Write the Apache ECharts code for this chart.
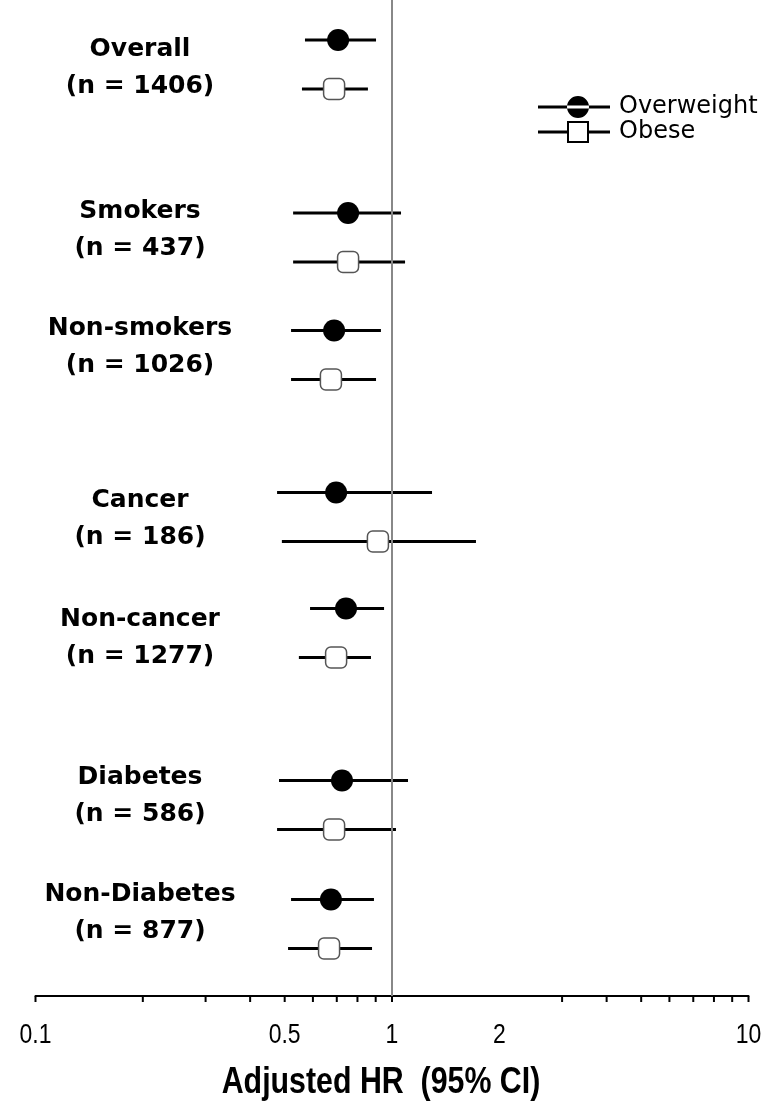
<!DOCTYPE html>
<html>
<head>
<meta charset="utf-8">
<script src="https://cdn.jsdelivr.net/npm/echarts@6/dist/echarts.min.js"></script>
<style>
  html, body { margin: 0; padding: 0; background: #fff; }
  #chart { width: 770px; height: 1107px; }
</style>
</head>
<body>
<div id="chart"></div>
<script>
// data
const groups = ['Overall', 'Smokers', 'Non-smokers', 'Cancer', 'Non-cancer', 'Diabetes', 'Non-Diabetes'];
const groupN = [1406, 437, 1026, 186, 1277, 586, 877];
const owHR = [0.706, 0.753, 0.688, 0.697, 0.743, 0.724, 0.674];
const owLo = [0.570, 0.528, 0.521, 0.476, 0.589, 0.482, 0.521];
const owHi = [0.902, 1.060, 0.931, 1.295, 0.950, 1.109, 0.890];
const obHR = [0.688, 0.753, 0.674, 0.913, 0.697, 0.688, 0.666];
const obLo = [0.559, 0.528, 0.521, 0.491, 0.548, 0.476, 0.511];
const obHi = [0.856, 1.088, 0.902, 1.720, 0.873, 1.026, 0.879];
const tickVals = [0.1, 0.2, 0.3, 0.4, 0.5, 0.6, 0.7, 0.8, 0.9, 1, 3, 4, 5, 6, 7, 8, 9, 10];
const tickLabels = [0.1, 0.5, 1, 2, 10];

// layout (vertical slots on a 0..996 value axis)
const Y_MAX = 996;
const groupY = [64.5, 237.5, 355, 517, 633, 805, 924];
const labelShift = [3, -8, -8, 2, 5, -9, -11];
const pairHalf = 24.5;
const NARROW = 0.82; // squeeze for the condensed axis font

const chart = echarts.init(document.getElementById('chart'));

const ciSeries = (name, lo, hi, off) => ({
  name: name,
  type: 'custom',
  z: 3,
  encode: { x: [0, 1], y: 2 },
  data: lo.map((v, i) => [v, hi[i], groupY[i] + off]),
  renderItem: function (params, api) {
    const a = api.coord([api.value(0), api.value(2)]);
    const b = api.coord([api.value(1), api.value(2)]);
    return {
      type: 'line',
      shape: { x1: a[0], y1: a[1], x2: b[0], y2: b[1] },
      style: { stroke: '#000', lineWidth: 3 }
    };
  }
});

const option = {
  animation: false,
  backgroundColor: '#fff',
  graphic: [
    {
      type: 'text',
      x: 381,
      y: 1083,
      scaleX: NARROW,
      style: {
        text: 'Adjusted HR  (95% CI)',
        fontFamily: 'Liberation Sans',
        fontWeight: 'bold',
        fontSize: 37,
        fill: '#000',
        align: 'center',
        verticalAlign: 'middle'
      }
    }
  ],
  legend: {
    orient: 'vertical',
    left: 533,
    top: 90,
    itemWidth: 72,
    itemHeight: 24,
    itemGap: 1,
    textStyle: { fontFamily: 'DejaVu Sans', fontSize: 24, color: '#000', padding: [0, 0, 0, 4] },
    data: [
      {
        name: 'Overweight',
        icon: 'path://M0,10.5H72V13.5H0Z M29,12A11,11,0,1,0,51,12A11,11,0,1,0,29,12Z',
        itemStyle: { color: '#000', borderWidth: 0 }
      },
      {
        name: 'Obese',
        icon: 'path://M0,10.5H29V13.5H0Z M51,10.5H72V13.5H51Z M29,1H51V23H29Z M31,3V21H49V3Z',
        itemStyle: { color: '#000', borderWidth: 0 }
      }
    ]
  },
  grid: { left: 35.5, right: 21.5, top: 0, bottom: 1107 - Y_MAX },
  xAxis: {
    type: 'log',
    logBase: 10,
    min: 0.1,
    max: 10,
    axisLine: { show: true, onZero: false, lineStyle: { color: '#000', width: 2 } },
    axisTick: { show: false },
    axisLabel: { show: false },
    splitLine: { show: false }
  },
  yAxis: {
    type: 'value',
    inverse: true,
    min: 0,
    max: Y_MAX,
    show: false
  },
  series: [
    {
      name: 'ticks',
      type: 'custom',
      z: 1,
      data: tickVals.map(v => [v, Y_MAX]),
      renderItem: function (params, api) {
        const p = api.coord([api.value(0), api.value(1)]);
        return {
          type: 'line',
          shape: { x1: p[0], y1: p[1], x2: p[0], y2: p[1] + 6 },
          style: { stroke: '#000', lineWidth: 2 }
        };
      },
      markLine: {
        silent: true,
        symbol: 'none',
        label: { show: false },
        lineStyle: { color: '#888', width: 2, type: 'solid' },
        data: [{ xAxis: 1 }]
      }
    },
    {
      name: 'tickLabels',
      type: 'custom',
      z: 1,
      data: tickLabels.map(v => [v, Y_MAX]),
      renderItem: function (params, api) {
        const p = api.coord([api.value(0), api.value(1)]);
        return {
          type: 'text',
          x: p[0],
          y: p[1] + 39,
          scaleX: NARROW,
          style: {
            text: String(tickLabels[params.dataIndex]),
            fontFamily: 'Liberation Sans',
            fontSize: 28,
            fill: '#000',
            align: 'center',
            verticalAlign: 'middle'
          }
        };
      }
    },
    {
      name: 'groupLabels',
      type: 'custom',
      z: 1,
      data: groupY.map((y, i) => [1, y + labelShift[i]]),
      renderItem: function (params, api) {
        const p = api.coord([api.value(0), api.value(1)]);
        const i = params.dataIndex;
        const font = { fontFamily: 'DejaVu Sans', fontWeight: 'bold', fontSize: 25, fill: '#000', align: 'center', verticalAlign: 'middle' };
        return {
          type: 'group',
          children: [
            { type: 'text', x: 140, y: p[1] - 18.5, style: Object.assign({ text: groups[i] }, font) },
            { type: 'text', x: 140, y: p[1] + 18.5, style: Object.assign({ text: '(n = ' + groupN[i] + ')' }, font) }
          ]
        };
      }
    },
    ciSeries('Overweight CI', owLo, owHi, -pairHalf),
    ciSeries('Obese CI', obLo, obHi, pairHalf),
    {
      name: 'Overweight',
      type: 'scatter',
      z: 5,
      symbol: 'circle',
      symbolSize: 22,
      itemStyle: { color: '#000', opacity: 1 },
      data: owHR.map((v, i) => [v, groupY[i] - pairHalf])
    },
    {
      name: 'Obese',
      type: 'scatter',
      z: 5,
      symbol: 'roundRect',
      symbolSize: 21,
      itemStyle: { color: '#fff', borderColor: '#555', borderWidth: 1.5, opacity: 1 },
      data: obHR.map((v, i) => [v, groupY[i] + pairHalf])
    }
  ]
};

chart.setOption(option);
</script>
</body>
</html>
